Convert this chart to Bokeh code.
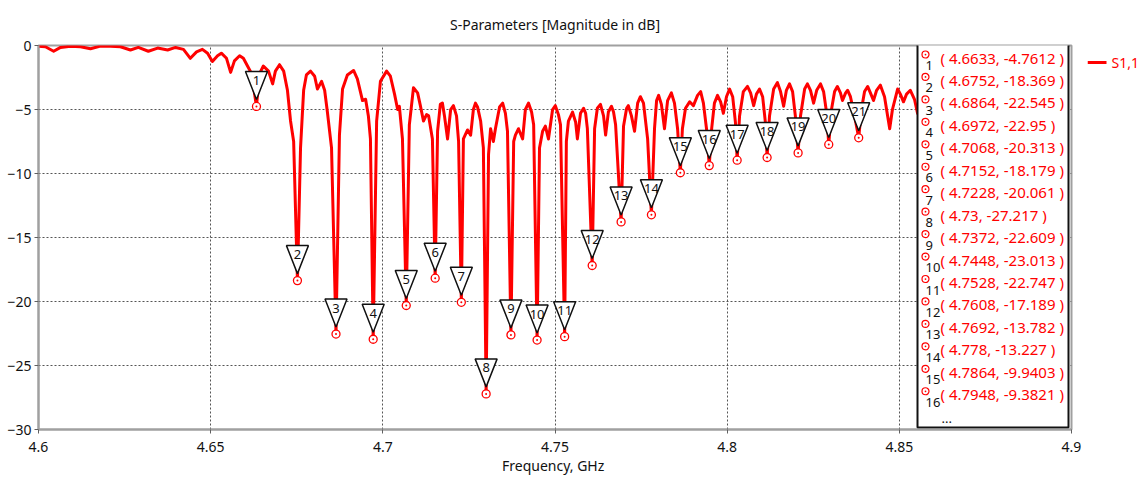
from bokeh.plotting import figure
from bokeh.layouts import row
from bokeh.models import FixedTicker, Range1d
from bokeh.core.properties import value
from bokeh.embed import file_html
from bokeh.resources import INLINE

# ---------------- data ----------------
freq_ghz = [
    4.6000, 4.6020, 4.6044, 4.6064, 4.6093, 4.6122, 4.6151, 4.6180, 4.6209, 4.6238,
    4.6267, 4.6290, 4.6319, 4.6346, 4.6375, 4.6398, 4.6421, 4.6441, 4.6459, 4.6476,
    4.6491, 4.6505, 4.6520, 4.6531, 4.6546, 4.6558, 4.6569, 4.6584, 4.6595, 4.6607,
    4.6619, 4.6633, 4.6642, 4.6653, 4.6668, 4.6680, 4.6688, 4.6700, 4.6712, 4.6723,
    4.6732, 4.6741, 4.6752, 4.6761, 4.6770, 4.6778, 4.6790, 4.6802, 4.6810, 4.6822,
    4.6831, 4.6839, 4.6851, 4.6864, 4.6874, 4.6883, 4.6897, 4.6915, 4.6926, 4.6941,
    4.6950, 4.6958, 4.6964, 4.6972, 4.6982, 4.6993, 4.7011, 4.7022, 4.7034, 4.7043,
    4.7048, 4.7057, 4.7068, 4.7077, 4.7089, 4.7101, 4.7109, 4.7118, 4.7127, 4.7133,
    4.7144, 4.7152, 4.7159, 4.7167, 4.7173, 4.7179, 4.7188, 4.7197, 4.7205, 4.7214,
    4.7220, 4.7228, 4.7234, 4.7246, 4.7255, 4.7263, 4.7269, 4.7275, 4.7284, 4.7292,
    4.7300, 4.7307, 4.7313, 4.7321, 4.7327, 4.7339, 4.7348, 4.7356, 4.7362, 4.7372,
    4.7380, 4.7385, 4.7394, 4.7406, 4.7414, 4.7423, 4.7432, 4.7438, 4.7448, 4.7455,
    4.7464, 4.7472, 4.7481, 4.7493, 4.7501, 4.7510, 4.7516, 4.7528, 4.7533, 4.7539,
    4.7551, 4.7560, 4.7565, 4.7574, 4.7583, 4.7589, 4.7594, 4.7608, 4.7615, 4.7623,
    4.7632, 4.7641, 4.7647, 4.7655, 4.7664, 4.7670, 4.7676, 4.7692, 4.7699, 4.7708,
    4.7713, 4.7722, 4.7731, 4.7740, 4.7748, 4.7757, 4.7769, 4.7780, 4.7789, 4.7795,
    4.7801, 4.7809, 4.7818, 4.7827, 4.7838, 4.7847, 4.7856, 4.7864, 4.7870, 4.7879,
    4.7891, 4.7902, 4.7914, 4.7923, 4.7931, 4.7940, 4.7948, 4.7955, 4.7963, 4.7972,
    4.7981, 4.7989, 4.7998, 4.8007, 4.8016, 4.8024, 4.8029, 4.8036, 4.8047, 4.8059,
    4.8068, 4.8077, 4.8085, 4.8094, 4.8103, 4.8111, 4.8116, 4.8123, 4.8135, 4.8146,
    4.8155, 4.8164, 4.8172, 4.8181, 4.8190, 4.8198, 4.8206, 4.8213, 4.8225, 4.8233,
    4.8242, 4.8251, 4.8260, 4.8271, 4.8280, 4.8289, 4.8295, 4.8303, 4.8312, 4.8320,
    4.8329, 4.8335, 4.8344, 4.8350, 4.8358, 4.8370, 4.8382, 4.8390, 4.8399, 4.8408,
    4.8416, 4.8425, 4.8434, 4.8445, 4.8457, 4.8466, 4.8472, 4.8480, 4.8495, 4.8503,
    4.8512, 4.8521, 4.8532, 4.8544, 4.8553, 4.8564, 4.8600, 4.8650,
]
s11_db = [
    -0.05, -0.1, -0.45, -0.15, -0.05, -0.1, -0.25, -0.05, -0.05, -0.1,
    -0.35, -0.15, -0.45, -0.2, -0.35, -0.15, -0.3, -1.0, -0.5, -0.3,
    -0.6, -1.25, -0.8, -0.6, -1.0, -2.1, -1.2, -0.8, -1.0, -1.6,
    -2.2, -4.7612, -2.2, -1.6, -2.0, -3.0, -2.0, -1.5, -2.0, -3.5,
    -5.9, -7.5, -18.369, -8.0, -3.5, -2.3, -2.0, -2.4, -3.4, -2.8,
    -3.5, -5.2, -8.0, -22.545, -7.0, -3.4, -2.3, -1.95, -2.6, -4.3,
    -4.2, -5.5, -7.3, -22.95, -5.9, -2.8, -2.0, -2.4, -3.8, -5.0,
    -4.75, -7.3, -20.313, -6.2, -3.3, -3.7, -4.7, -5.9, -5.4, -5.5,
    -7.3, -18.179, -6.7, -4.6, -4.5, -5.5, -7.3, -5.0, -4.7, -5.5,
    -7.5, -20.061, -7.3, -6.6, -7.0, -5.0, -4.5, -4.8, -5.9, -8.0,
    -27.217, -8.5, -6.5, -7.5, -6.5, -4.8, -4.5, -5.3, -6.7, -22.609,
    -7.5, -7.0, -6.5, -7.3, -5.0, -4.5, -5.2, -6.2, -23.013, -8.0,
    -6.7, -6.3, -7.3, -5.0, -4.7, -5.4, -6.2, -22.747, -7.5, -5.9,
    -5.2, -6.0, -7.3, -5.3, -4.9, -5.3, -6.5, -17.189, -6.5, -4.9,
    -4.6, -5.5, -7.0, -5.2, -4.75, -5.2, -6.2, -13.782, -6.3, -4.9,
    -4.7, -5.5, -6.7, -4.5, -4.0, -4.5, -7.3, -13.227, -6.5, -4.3,
    -3.9, -4.6, -6.5, -4.3, -3.7, -4.5, -6.5, -9.9403, -6.5, -4.9,
    -4.4, -4.7, -3.9, -3.6, -4.5, -6.5, -9.3821, -6.5, -4.5, -3.9,
    -4.4, -5.3, -4.0, -3.4, -4.0, -6.0, -8.96, -5.5, -3.6, -3.2,
    -3.7, -4.7, -3.8, -3.4, -4.0, -6.0, -8.75, -5.5, -3.4, -2.9,
    -3.6, -4.75, -3.5, -3.0, -3.6, -5.5, -8.39, -5.5, -3.4, -3.0,
    -3.5, -4.5, -3.5, -3.0, -3.6, -5.3, -7.73, -5.0, -3.6, -3.2,
    -3.7, -4.3, -3.7, -3.5, -4.0, -5.5, -7.21, -5.0, -3.6, -3.2,
    -3.7, -4.3, -3.5, -3.1, -4.0, -5.5, -6.5, -5.0, -3.4, -3.8,
    -4.4, -3.8, -3.5, -4.2, -5.3, -4.5, -3.6, -4.0,
]
marker_freq = [4.6633, 4.6752, 4.6864, 4.6972, 4.7068, 4.7152, 4.7228, 4.73,
               4.7372, 4.7448, 4.7528, 4.7608, 4.7692, 4.778, 4.7864, 4.7948,
               4.8029, 4.8116, 4.8206, 4.8295, 4.8382]
marker_db = [-4.7612, -18.369, -22.545, -22.95, -20.313, -18.179, -20.061, -27.217,
             -22.609, -23.013, -22.747, -17.189, -13.782, -13.227, -9.9403, -9.3821,
             -8.96, -8.75, -8.39, -7.73, -7.21]
table_rows = 16
x_ticks = [4.6, 4.65, 4.7, 4.75, 4.8, 4.85, 4.9]
x_tick_labels = ["4.6", "4.65", "4.7", "4.75", "4.8", "4.85", "4.9"]
y_ticks = [0, -5, -10, -15, -20, -25, -30]
series_name = "S1,1"
title_text = "S-Parameters [Magnitude in dB]"
x_label = "Frequency,  GHz"

assert len(freq_ghz) == len(s11_db)

# ---------------- layout ----------------
W, H = 1144, 477
BL, BR, BT, BB = 38, 16, 45, 48
FW, FH = 1033, H - BT - BB
PW = BL + FW + BR               # main figure width
SIDE_W = W - PW                 # strip right of the figure for the series key
X0, X1, Y0, Y1 = 4.6, 4.9, -30.0, 0.0
GX = (X1 - X0) / FW      # GHz per pixel
GY = (Y1 - Y0) / FH      # dB per pixel


def sx(px):
    return X0 + (px - BL) * GX


def sy(py):
    return Y1 - (py - BT) * GY


FONT = "Noto Sans"
RED = "#ff0000"
INK = "#111111"

p = figure(width=PW, height=H, output_backend="svg", toolbar_location=None,
           x_range=Range1d(X0, X1), y_range=Range1d(Y0, Y1),
           min_border_left=BL, min_border_right=BR, min_border_top=BT,
           min_border_bottom=BB, title=title_text)
p.background_fill_color = "white"
p.border_fill_color = "white"
p.outline_line_color = "#a0a0a0"
p.outline_line_width = 2

p.title.align = "center"
p.title.text_font = FONT
p.title.text_font_size = "14px"
p.title.text_font_style = "normal"
p.title.text_color = INK
p.title.standoff = 24

for ax in (p.xaxis[0], p.yaxis[0]):
    ax.major_label_text_font = FONT
    ax.major_label_text_font_size = "14px"
    ax.major_label_text_color = INK
    ax.axis_line_color = "#a0a0a0"
    ax.axis_line_width = 2
    ax.major_tick_line_color = "#606060"
    ax.major_tick_in = 0
    ax.major_tick_out = 4
    ax.minor_tick_line_color = None

p.xaxis.ticker = FixedTicker(ticks=x_ticks)
p.xaxis.major_label_overrides = {t: l for t, l in zip(x_ticks, x_tick_labels)}
p.xaxis.major_label_standoff = 8
p.xaxis.axis_label = x_label
p.xaxis.axis_label_text_font = FONT
p.xaxis.axis_label_text_font_size = "14px"
p.xaxis.axis_label_text_font_style = "normal"
p.xaxis.axis_label_text_color = INK
p.xaxis.axis_label_standoff = 1
p.yaxis.ticker = FixedTicker(ticks=y_ticks)
p.yaxis.major_label_standoff = 3

for g in (p.xgrid[0], p.ygrid[0]):
    g.grid_line_color = "#555555"
    g.grid_line_dash = "2 2"
    g.grid_line_width = 1
p.xgrid.ticker = FixedTicker(ticks=x_ticks)
p.ygrid.ticker = FixedTicker(ticks=y_ticks)

# curve
p.line(freq_ghz, s11_db, line_color=RED, line_width=3, line_join="round")

# marker triangles (inverted, above each minimum)
tri_half_w, tri_h, tri_gap = 11, 28, 7
xs, ys, num_x, num_y, num_t = [], [], [], [], []
for i, (f, d) in enumerate(zip(marker_freq, marker_db)):
    apex = d + tri_gap * GY
    top = apex + tri_h * GY
    xs.append([f - tri_half_w * GX, f + tri_half_w * GX, f])
    ys.append([top, top, apex])
    num_x.append(f)
    num_y.append(top - 9 * GY)
    num_t.append(str(i + 1))
p.patches(xs, ys, fill_color="white", line_color=INK, line_width=1.5)
p.text(num_x, num_y, text=num_t, text_font=value(FONT), text_font_size="13px",
       text_align="center", text_baseline="middle", text_color=INK)
p.scatter(marker_freq, marker_db, marker="circle_dot", size=8, line_color=RED,
          fill_color="white", line_width=1.3)

# marker table box
p.quad(left=[sx(917)], right=[sx(1068)], top=[sy(43)], bottom=[sy(427)],
       fill_color="white", line_color=INK, line_width=2)
row_px = [57 + 22.45 * i for i in range(table_rows)]
row_txt = ["( {:.5g}, {:.5g} )".format(f, d)
           for f, d in zip(marker_freq[:table_rows], marker_db[:table_rows])]
p.scatter([sx(925)] * table_rows, [sy(r - 3) for r in row_px], marker="circle_dot",
          size=7, line_color=RED, fill_color="white", line_width=1.2)
p.text([sx(925)] * table_rows, [sy(r + 8) for r in row_px],
       text=[str(i + 1) for i in range(table_rows)], text_font=value(FONT),
       text_font_size="13px", text_align="left", text_baseline="middle",
       text_color=INK)
p.text([sx(940)] * table_rows, [sy(r) for r in row_px], text=row_txt,
       text_font=value(FONT), text_font_size="15px", text_align="left",
       text_baseline="middle", text_color=RED)
p.text([sx(941)], [sy(418)], text=["..."], text_font=value(FONT),
       text_font_size="13px", text_align="left", text_baseline="middle",
       text_color=INK)

# ---------------- series key strip (right of the figure) ----------------
k = figure(width=SIDE_W, height=H, output_backend="svg", toolbar_location=None,
           title=None, x_range=Range1d(0, SIDE_W), y_range=Range1d(0, H),
           x_axis_type=None, y_axis_type=None, min_border=0)
k.outline_line_color = None
k.grid.visible = False
k.background_fill_color = "white"
k.border_fill_color = "white"
key_y = H - 21           # lands at the height of the first table row
k.line([0, 1106 - PW], [key_y, key_y], line_color=RED, line_width=3)
k.text([1111 - PW], [key_y], text=[series_name], text_font=value(FONT),
       text_font_size="14px", text_align="left", text_baseline="middle",
       text_color=RED)

layout = row(p, k, spacing=0)
open("out.html", "w").write(file_html(layout, INLINE))
